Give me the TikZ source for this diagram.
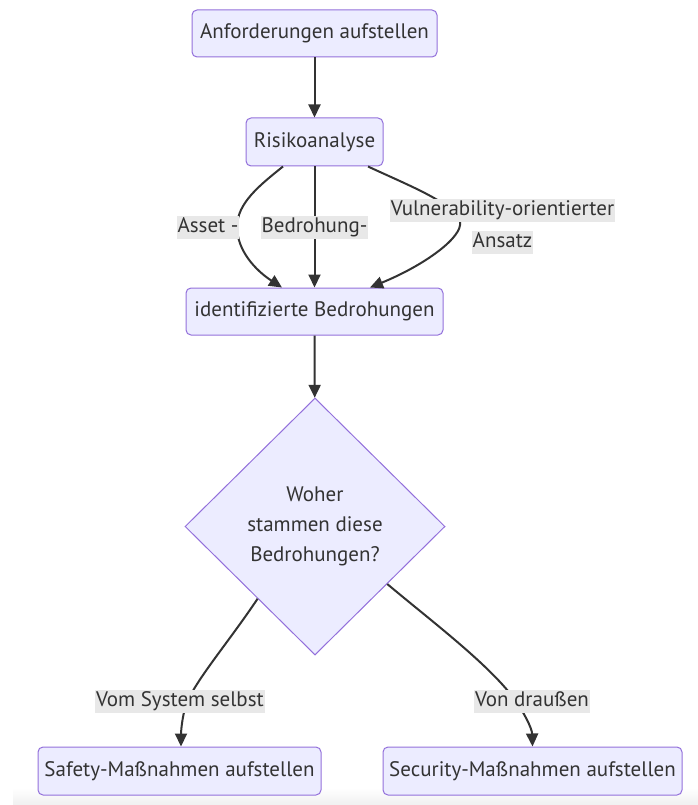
\documentclass[tikz,border=0pt]{standalone}
\usepackage{fontspec}
\setmainfont{PT Sans}
\usetikzlibrary{shapes.geometric,arrows.meta,calc}
\definecolor{boxfill}{HTML}{ECECFF}
\definecolor{boxline}{HTML}{9370DB}
\definecolor{ink}{HTML}{333333}
\definecolor{lblbg}{HTML}{E8E8E8}

\begin{document}
\begin{tikzpicture}[x=1pt,y=-1pt,
  every node/.style={font=\fontsize{21}{30}\selectfont, text=ink},
  stepbox/.style={draw=boxline, fill=boxfill, line width=1pt, rounded corners=5pt,
    inner sep=0pt, minimum height=47pt},
  decision/.style={diamond, draw=boxline, fill=boxfill, line width=1pt, inner sep=0pt,
    minimum width=260pt, minimum height=257pt, align=center},
  edgelabel/.style={fill=lblbg, inner xsep=1pt, inner ysep=2pt, text height=14.5pt, text depth=4.5pt},
  flow/.style={draw=ink, line width=2pt, -{Triangle[length=13pt,width=12pt]}},
]
\useasboundingbox (0,0) rectangle (698,805);

% faint strip along the lower edge
\fill[top color=white, bottom color=gray!12] (13,788) rectangle (698,805);

% process steps
\node[stepbox, minimum width=245pt] (req)  at (314.5,33.5) {Anforderungen aufstellen};
\node[stepbox, minimum width=137pt, minimum height=48pt] (risk) at (314.5,142) {Risikoanalyse};
\node[stepbox, minimum width=257pt] (idb)  at (314.5,311.5) {identifizierte Bedrohungen};
\node[decision] (q) at (315,526.5) {Woher\\stammen diese\\Bedrohungen?};
\node[stepbox, minimum width=283pt, minimum height=48pt] (sf) at (179.5,771) {Safety-Maßnahmen aufstellen};
\node[stepbox, minimum width=299pt, minimum height=48pt] (se) at (532.5,771) {Security-Maßnahmen aufstellen};

% connectors
\draw[flow] (req) -- (risk);
\draw[flow] ($(risk.south)+(-31.5,0)$) .. controls (260,185) and (237,203) .. (237,227)
            .. controls (237,250) and (255,270) .. ($(idb.north)+(-32.5,0)$);
\draw[flow] (risk) -- (idb);
\draw[flow] ($(risk.south)+(53.5,0)$) .. controls (410,186) and (456,204) .. (460,222)
            .. controls (463,237) and (425,265) .. ($(idb.north)+(55.5,0)$);
\draw[flow] (idb) -- (q);
\draw[flow] ($(q.west)!0.56!(q.south)$) .. controls (230,640) and (200,675) .. (188,700)
            .. controls (183,710) and (181,730) .. ($(sf.north)+(1.5,0)$);
\draw[flow] ($(q.east)!0.446!(q.south)$) .. controls (430,620) and (490,665) .. (515,700)
            .. controls (523,711) and (532,728) .. (se.north);

% connector labels
\node[edgelabel] (lasset) at (208,227) {Asset -};
\node[edgelabel] (lthreat) at (314.5,227) {Bedrohung-};
\node[edgelabel] (lvulnA) at (502.5,210.5) {Vulnerability-orientierter};
\node[edgelabel] (lvulnB) at (502.5,242.5) {Ansatz};
\node[edgelabel] (lsys) at (180,701) {Vom System selbst};
\node[edgelabel] (lout) at (532,701) {Von draußen};
\end{tikzpicture}
\end{document}
